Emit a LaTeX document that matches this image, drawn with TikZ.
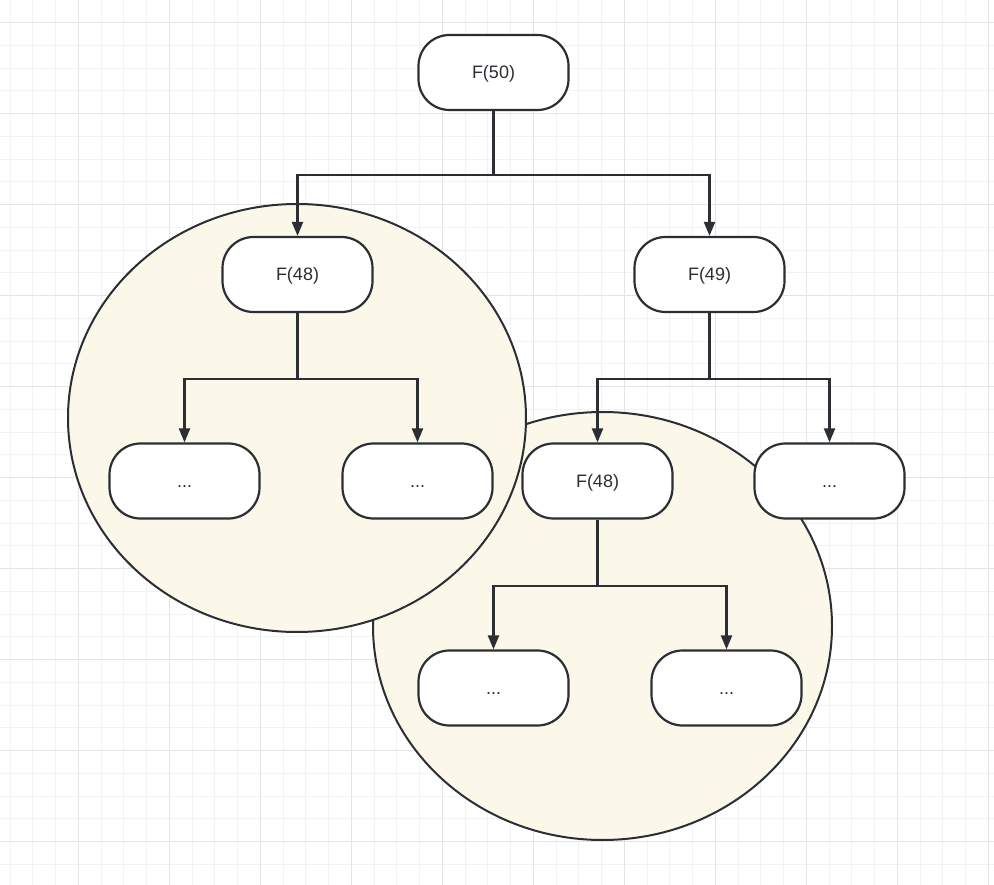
\documentclass[tikz,border=0pt]{standalone}
\usepackage{fontspec}
\setmainfont{Liberation Sans}
\usetikzlibrary{arrows.meta}
\definecolor{minorgrid}{HTML}{F2F2F2}
\definecolor{majorgrid}{HTML}{E4E4E4}
\definecolor{cream}{HTML}{FBF8EA}
\definecolor{ink}{HTML}{2B2F33}
\tikzset{
  fnode/.style={draw=ink, line width=2.2pt, fill=white, rounded corners=31pt,
    minimum width=150pt, minimum height=75pt, inner sep=0pt,
    text height=13pt, text depth=0pt,
    font=\fontsize{18}{21}\selectfont, text=ink},
  blob/.style={draw=ink, line width=2pt, fill=cream},
  link/.style={draw=ink, line width=2.2pt, -{Triangle[length=14pt,width=11pt]}},
}
\begin{document}
\begin{tikzpicture}[x=1pt,y=-1pt]
\useasboundingbox (0,0) rectangle (994,885);
\fill[white] (0,0) rectangle (994,885);
% grid
\foreach \i in {-3,...,40} {
  \draw[minorgrid, line width=1pt] ({78.3+22.75*\i},0) -- ({78.3+22.75*\i},885);
  \draw[minorgrid, line width=1pt] (0,{22.7+22.75*\i}) -- (994,{22.7+22.75*\i});
}
\foreach \i in {-1,...,10} {
  \draw[majorgrid, line width=1pt] ({78.3+91*\i},0) -- ({78.3+91*\i},885);
  \draw[majorgrid, line width=1pt] (0,{22.7+91*\i}) -- (994,{22.7+91*\i});
}
% circles
\draw[blob] (602.5,626) ellipse [x radius=229.5, y radius=214];
\draw[blob] (297,418) ellipse [x radius=229, y radius=214];
% nodes
\node[fnode] (f50) at (493.5,72.5) {F(50)};
\node[fnode] (f48a) at (297.5,274.5) {F(48)};
\node[fnode] (f49) at (709.5,274.5) {F(49)};
\node[fnode] (d1) at (184.5,481) {...};
\node[fnode] (d2) at (417.5,481) {...};
\node[fnode] (f48b) at (597.5,481) {F(48)};
\node[fnode] (d3) at (829.5,481) {...};
\node[fnode] (d4) at (493.5,688) {...};
\node[fnode] (d5) at (726.5,688) {...};
% connectors
\draw[link] (f50.south) -- ++(0,64) -| (f48a.north);
\draw[link] (f50.south) -- ++(0,64) -| (f49.north);
\draw[link] (f48a.south) -- ++(0,66) -| (d1.north);
\draw[link] (f48a.south) -- ++(0,66) -| (d2.north);
\draw[link] (f49.south) -- ++(0,66) -| (f48b.north);
\draw[link] (f49.south) -- ++(0,66) -| (d3.north);
\draw[link] (f48b.south) -- ++(0,66) -| (d4.north);
\draw[link] (f48b.south) -- ++(0,66) -| (d5.north);
\end{tikzpicture}
\end{document}
